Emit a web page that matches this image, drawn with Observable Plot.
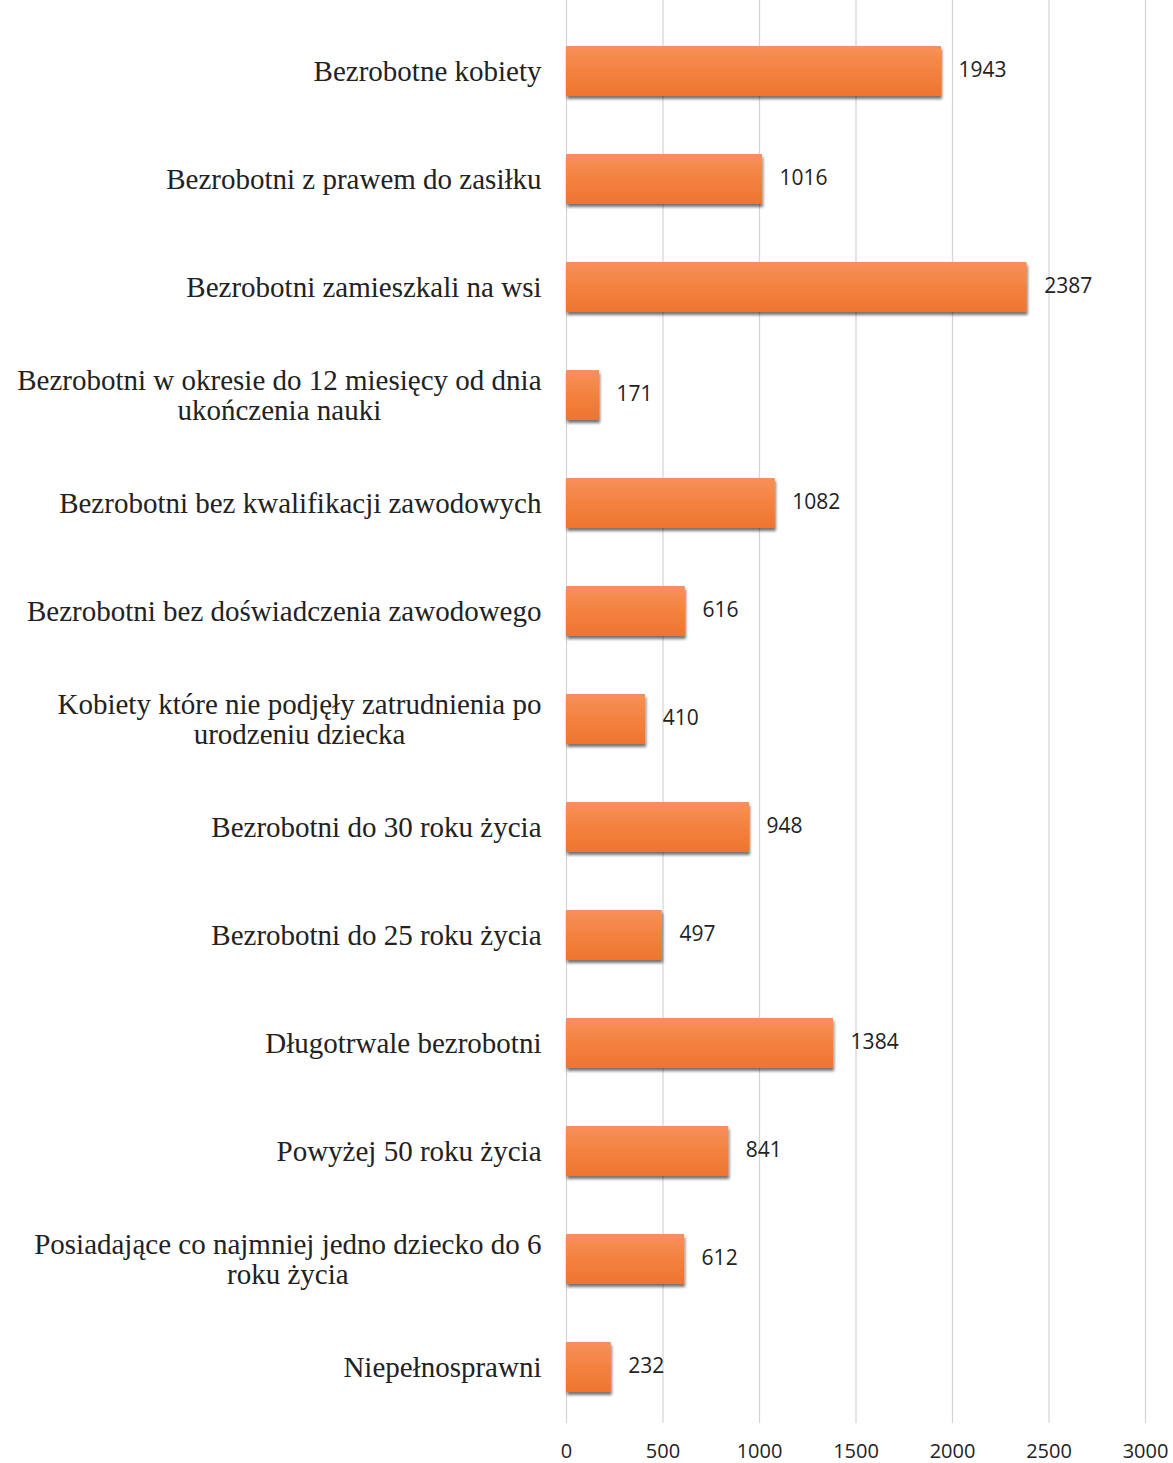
<!DOCTYPE html>
<html>
<head>
<meta charset="utf-8">
<script src="https://cdn.jsdelivr.net/npm/d3@7"></script>
<script src="https://cdn.jsdelivr.net/npm/@observablehq/plot@0.6"></script>
<style>
  html, body { margin: 0; padding: 0; background: #fff; }
  #chart svg { display: block; }
</style>
</head>
<body>
<div id="chart"></div>
<script>
const categories = [
  "Bezrobotne kobiety",
  "Bezrobotni z prawem do zasiłku",
  "Bezrobotni zamieszkali na wsi",
  "Bezrobotni w okresie do 12 miesięcy od dnia\nukończenia nauki",
  "Bezrobotni bez kwalifikacji zawodowych",
  "Bezrobotni bez doświadczenia zawodowego",
  "Kobiety które nie podjęły zatrudnienia po\nurodzeniu dziecka",
  "Bezrobotni do 30 roku życia",
  "Bezrobotni do 25 roku życia",
  "Długotrwale bezrobotni",
  "Powyżej 50 roku życia",
  "Posiadające co najmniej jedno dziecko do 6\nroku życia",
  "Niepełnosprawni"
];
const values = [1943, 1016, 2387, 171, 1082, 616, 410, 948, 497, 1384, 841, 612, 232];
const xTicks = [0, 500, 1000, 1500, 2000, 2500, 3000];

const data = categories.map((c, i) => ({category: c, value: values[i]}));

const defs = () => {
  const ns = "http://www.w3.org/2000/svg";
  const d = document.createElementNS(ns, "defs");
  d.innerHTML = `
    <linearGradient id="barGrad" x1="0" y1="0" x2="0" y2="1">
      <stop offset="0%" stop-color="#F7915A"/>
      <stop offset="50%" stop-color="#F3823F"/>
      <stop offset="100%" stop-color="#EE7432"/>
    </linearGradient>
    <filter id="barShadow" x="-5%" y="-10%" width="115%" height="140%">
      <feGaussianBlur in="SourceAlpha" stdDeviation="1.5"/>
      <feOffset dx="1" dy="3" result="off"/>
      <feComponentTransfer><feFuncA type="linear" slope="0.55"/></feComponentTransfer>
      <feMerge><feMergeNode/><feMergeNode in="SourceGraphic"/></feMerge>
    </filter>`;
  return d;
};

const chart = Plot.plot({
  width: 1173,
  height: 1463,
  marginLeft: 566,
  marginRight: 28,
  marginTop: 0,
  marginBottom: 40,
  style: {background: "#fff", overflow: "visible"},
  x: {domain: [0, 3000], ticks: xTicks},
  y: {domain: categories, paddingInner: 0.54, paddingOuter: 0.27, insetTop: 15, label: null},
  marks: [
    defs,
    Plot.ruleX(xTicks, {stroke: "#d4d4d4", strokeWidth: 1.2}),
    Plot.barX(data, {y: "category", x: "value", fill: "url(#barGrad)", className: "bars"}),
    Plot.text(data, {
      y: "category", x: "value", text: d => String(d.value),
      textAnchor: "start", dx: 17, dy: -1,
      fontSize: 21, fontFamily: "Open Sans", fill: "#222"
    }),
    Plot.axisX({
      ticks: xTicks, tickSize: 0, tickPadding: 20, label: null,
      tickFormat: d => String(d),
      fontSize: 20, fontFamily: "Open Sans", fill: "#222"
    }),
    Plot.axisY({
      tickSize: 0, tickPadding: 25, label: null,
      fontSize: 29, fontFamily: "Liberation Serif", fill: "#222",
      lineHeight: 1.04, lineWidth: 100
    })
  ]
});

document.getElementById("chart").appendChild(chart);

// apply shadow filter to bars
d3.select(chart).selectAll("g.bars, g[aria-label='bar']").attr("filter", "url(#barShadow)");

// center-align multi-line y tick labels within a right-aligned block
d3.select(chart).selectAll("g[aria-label='y-axis tick label'] text").each(function() {
  const tspans = this.querySelectorAll("tspan");
  if (tspans.length < 2) return;
  let w = 0;
  tspans.forEach(t => { w = Math.max(w, t.getComputedTextLength()); });
  tspans.forEach(t => {
    t.setAttribute("x", -w / 2);
    t.setAttribute("text-anchor", "middle");
  });
});
</script>
</body>
</html>
